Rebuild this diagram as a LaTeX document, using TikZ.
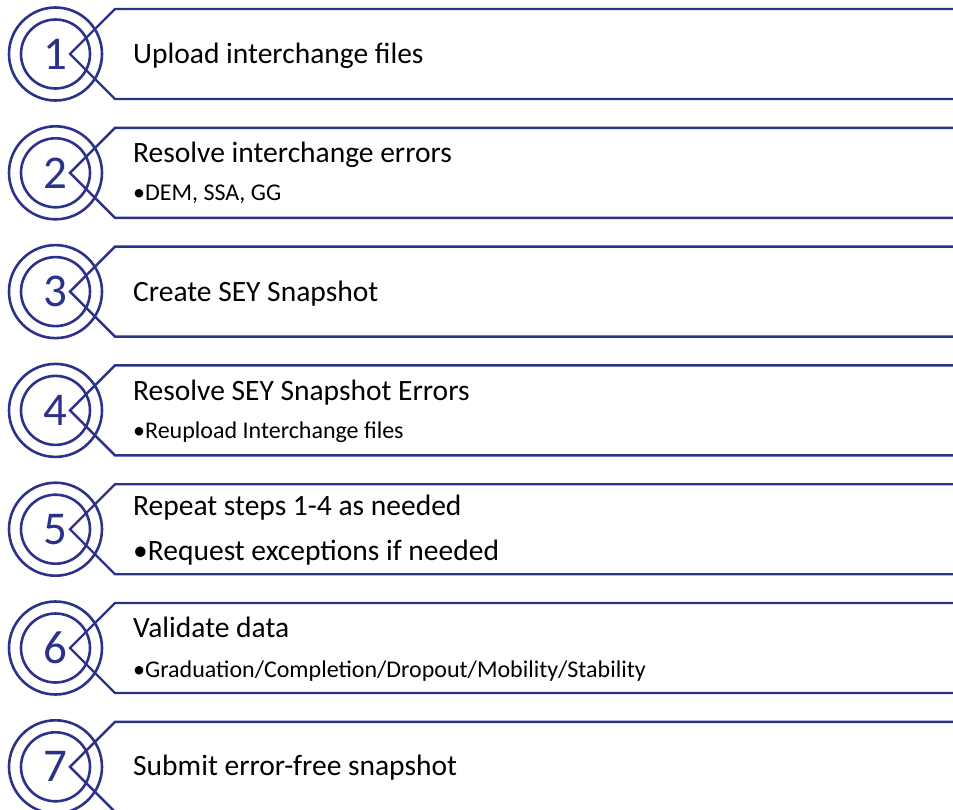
\documentclass[tikz,border=0pt]{standalone}
\usepackage{fontspec}
\setmainfont{Carlito}
\usepackage{tikz}
\definecolor{stepblue}{RGB}{44,50,138}

\begin{document}
\begin{tikzpicture}[x=1pt,y=-1pt]
    \tikzset{ring/.style = {shape=circle, draw=stepblue, line width=2.6pt, inner sep=0pt}}
    \tikzset{tab/.style = {draw=stepblue, line width=2.4pt, line join=miter}}
    \tikzset{title/.style = {anchor=base west, inner sep=0pt, font=\fontsize{29.5}{34}\selectfont}}
    \tikzset{note/.style = {anchor=base west, inner sep=0pt, font=\fontsize{24}{28}\selectfont}}

    \useasboundingbox (0,0) rectangle (953,809);

    % rings and tabs
    \foreach \n in {1,...,7} {
        \pgfmathsetmacro{\rowtop}{9+(\n-1)*118.8}
        \draw[tab] (953,\rowtop) -- (115,\rowtop) -- (70,\rowtop+45) -- (115,\rowtop+90) -- (953,\rowtop+90);
        \node[ring, minimum size=93pt] (outer\n) at (55.5,\rowtop+45) {};
        \node[ring, minimum size=69pt, text=stepblue, font=\fontsize{47}{47}\selectfont] (num\n) at (outer\n.center) {\n};
    }

    % texts
    \node[title] (t1) at (133,63) {Upload interchange files};
    \node[title] (t2) at (133,162) {Resolve interchange errors};
    \node[note]  (s2) at (133,200) {•DEM, SSA, GG};
    \node[title] (t3) at (133,301) {Create SEY Snapshot};
    \node[title] (t4) at (133,400) {Resolve SEY Snapshot Errors};
    \node[note]  (s4) at (133,438) {•Reupload Interchange files};
    \node[title] (t5) at (133,515) {Repeat steps 1-4 as needed};
    \node[title] (s5) at (133,560) {•Request exceptions if needed};
    \node[title] (t6) at (133,637) {Validate data};
    \node[note]  (s6) at (133,677) {•Graduation/Completion/Dropout/Mobility/Stability};
    \node[title] (t7) at (133,775) {Submit error-free snapshot};
\end{tikzpicture}
\end{document}
